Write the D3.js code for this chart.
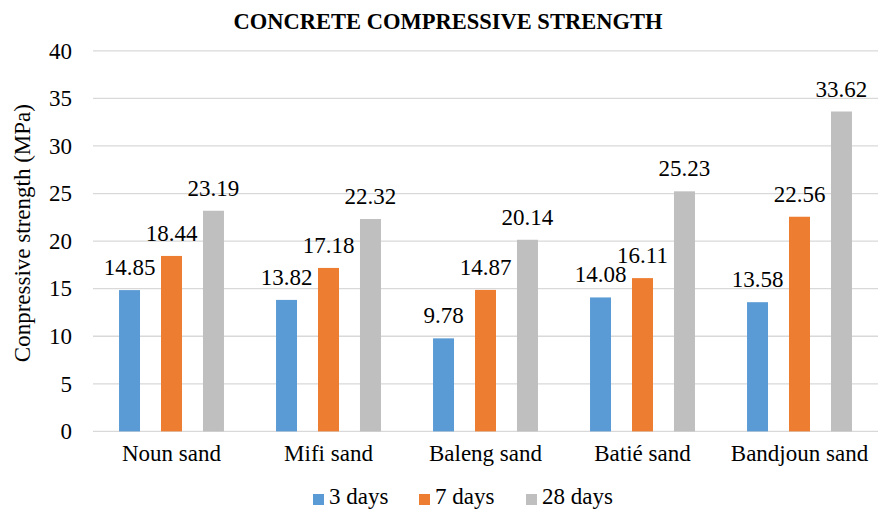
<!DOCTYPE html>
<html>
<head>
<meta charset="utf-8">
<script src="https://cdn.jsdelivr.net/npm/d3@7"></script>
</head>
<body style="margin:0">
<svg id="chart" width="892" height="510"></svg>
<script>
const categories = ["Noun sand", "Mifi sand", "Baleng sand", "Batié sand", "Bandjoun sand"];
const seriesNames = ["3 days", "7 days", "28 days"];
const days3 = [14.85, 13.82, 9.78, 14.08, 13.58];
const days7 = [18.44, 17.18, 14.87, 16.11, 22.56];
const days28 = [23.19, 22.32, 20.14, 25.23, 33.62];
const yTicks = [0, 5, 10, 15, 20, 25, 30, 35, 40];
const colors = ["#5B9BD5", "#ED7D31", "#BFBFBF"];
const chartTitle = "CONCRETE COMPRESSIVE STRENGTH";
const yTitle = "Conpressive strength (MPa)";

const FONT = "'Times New Roman', 'Liberation Serif', Tinos, 'DejaVu Serif', serif";

const seriesValues = [days3, days7, days28];
const data = categories.map((c, i) => ({
  cat: c,
  vals: seriesNames.map((s, j) => ({ key: s, value: seriesValues[j][i], idx: j }))
}));

const svg = d3.select("#chart");
svg.append("rect").attr("width", 892).attr("height", 510).attr("fill", "#fff");
const plotLeft = 93, plotRight = 878, plotTop = 50.8, plotBottom = 431.4;

const x0 = d3.scaleBand().domain(categories).range([plotLeft, plotRight]).padding(0);
const x1 = d3.scaleBand().domain(seriesNames).range([0, x0.bandwidth()])
  .paddingInner(0.5).paddingOuter(0.62);
const y = d3.scaleLinear().domain([0, 40]).range([plotBottom, plotTop]);

function txt(sel) {
  return sel.style("font-family", FONT);
}

// gridlines
svg.append("g").selectAll("line").data(yTicks).join("line")
  .attr("x1", plotLeft).attr("x2", plotRight)
  .attr("y1", d => y(d)).attr("y2", d => y(d))
  .attr("stroke", "#D9D9D9").attr("stroke-width", 1.3);

// y tick labels
txt(svg.selectAll("text.ytick").data(yTicks).join("text").attr("class", "ytick"))
  .attr("x", 72).attr("y", d => y(d)).attr("dy", "0.34em")
  .attr("text-anchor", "end").style("font-size", "23px")
  .text(d => d);

// bars
const groups = svg.append("g").selectAll("g").data(data).join("g")
  .attr("transform", d => `translate(${x0(d.cat)},0)`);
groups.selectAll("rect").data(d => d.vals).join("rect")
  .attr("x", d => x1(d.key)).attr("width", x1.bandwidth())
  .attr("y", d => y(d.value)).attr("height", d => y(0) - y(d.value))
  .attr("fill", d => colors[d.idx]);

// value labels
const labelData = data.flatMap(d => d.vals.map(v => ({ cat: d.cat, ...v })));
txt(svg.selectAll("text.vlabel").data(labelData).join("text").attr("class", "vlabel"))
  .attr("x", d => x0(d.cat) + x1(d.key) + x1.bandwidth() / 2)
  .attr("y", d => y(d.value) - 15)
  .attr("text-anchor", "middle").style("font-size", "23px")
  .text(d => d.value.toFixed(2));

// category labels
txt(svg.selectAll("text.cat").data(categories).join("text").attr("class", "cat"))
  .attr("x", d => x0(d) + x0.bandwidth() / 2).attr("y", 461)
  .attr("text-anchor", "middle").style("font-size", "23px")
  .text(d => d);

// title
txt(svg.append("text")).attr("x", 448).attr("y", 29)
  .attr("text-anchor", "middle").style("font-size", "22.5px").style("font-weight", "bold")
  .text(chartTitle);

// y axis title
txt(svg.append("text"))
  .attr("transform", `translate(30,${(plotTop + plotBottom) / 2 - 8}) rotate(-90)`)
  .attr("text-anchor", "middle").style("font-size", "23px")
  .text(yTitle);

// legend
const legendX = [313, 419, 526];
seriesNames.forEach((s, i) => {
  svg.append("rect").attr("x", legendX[i]).attr("y", 494).attr("width", 11).attr("height", 11)
    .attr("fill", colors[i]);
  txt(svg.append("text")).attr("x", legendX[i] + 16).attr("y", 504)
    .style("font-size", "23px").text(s);
});
</script>
</body>
</html>
